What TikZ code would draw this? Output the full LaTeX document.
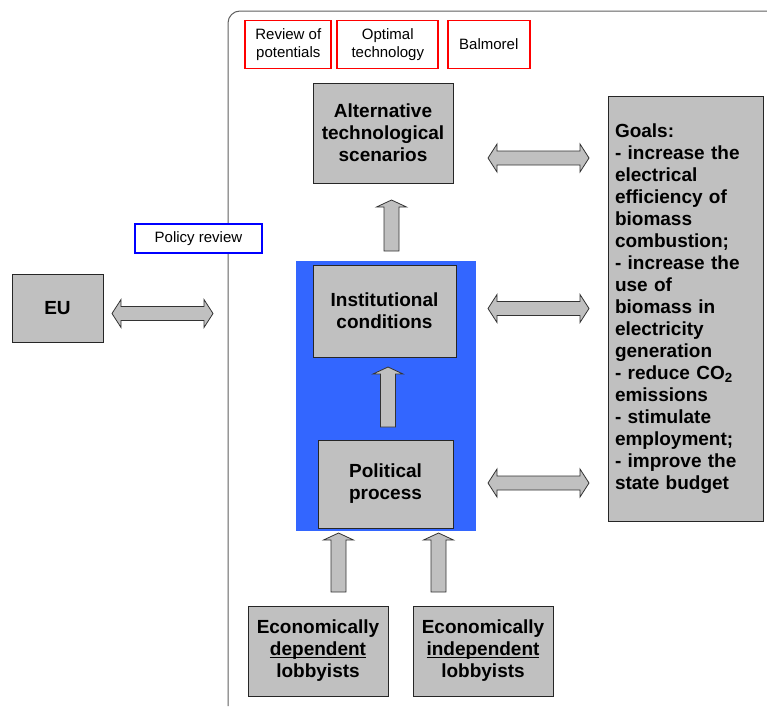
\documentclass[tikz,border=0pt]{standalone}
\usepackage{fontspec}
\setmainfont{Liberation Sans}
\definecolor{boxgray}{HTML}{C0C0C0}
\definecolor{panelblue}{HTML}{3366FF}
\definecolor{framegray}{HTML}{606060}
\newcommand\uparr[3]{% x centre, y tip, y bottom
  \draw[blockarrow] (#1-7.5,#3) -- (#1-7.5,#2+7) -- (#1-15,#2+7) -- (#1,#2) -- (#1+15,#2+7) -- (#1+7.5,#2+7) -- (#1+7.5,#3) -- cycle;}
\newcommand\dblarr[3]{% x left, x right, y centre
  \draw[blockarrow] (#1,#3) -- (#1+9,#3-14) -- (#1+9,#3-7) -- (#2-9,#3-7) -- (#2-9,#3-14) -- (#2,#3) -- (#2-9,#3+14) -- (#2-9,#3+7) -- (#1+9,#3+7) -- (#1+9,#3+14) -- cycle;}
\newcommand\myul[1]{\leavevmode\setbox0\hbox{#1}\rlap{\rule[-2.2pt]{\wd0}{1pt}}\box0}
\begin{document}
\begin{tikzpicture}[x=1pt,y=-1pt,
  gbox/.style={draw=black!85, line width=0.8pt, fill=boxgray, inner sep=0pt, align=center,
    font=\fontsize{19}{22}\selectfont\bfseries},
  rbox/.style={draw=red, line width=1.8pt, fill=white, inner sep=0pt, align=center,
    font=\fontsize{15}{17.5}\selectfont},
  bbox/.style={draw=blue, line width=1.6pt, fill=white, inner sep=0pt, align=center,
    font=\fontsize{15}{17.5}\selectfont},
  blockarrow/.style={draw=black!80, line width=0.8pt, fill=boxgray, line join=miter}
]
\useasboundingbox (0,0) rectangle (767,707);
% frame
\draw[framegray, line width=1pt, rounded corners=12pt] (228,706) -- (228,11) -- (790,11);
% top method boxes
\node[rbox, minimum width=86, minimum height=48] (rev) at (288.3,44.5) {Review of\\potentials};
\node[rbox, minimum width=101, minimum height=48] (opt) at (387.8,44.5) {Optimal\\technology};
\node[rbox, minimum width=82, minimum height=48] (bal) at (488.8,44.5) {Balmorel};
% blue panel
\fill[panelblue] (296,261) rectangle (476,531);
% main boxes
\node[gbox, minimum width=140, minimum height=100] (alt) at (383,133) {Alternative\\technological\\scenarios};
\node[gbox, minimum width=143, minimum height=92] (inst) at (384.5,311) {Institutional\\conditions};
\node[gbox, minimum width=135, minimum height=88] (pol) at (385.5,484) {Political\\process};
\node[gbox, minimum width=140, minimum height=90] (dep) at (318,651) {Economically\\\myul{dependent}\\lobbyists};
\node[gbox, minimum width=140, minimum height=90] (indep) at (483,651) {Economically\\\myul{independent}\\lobbyists};
\node[gbox, minimum width=91, minimum height=68] (eu) at (57.5,308.5) {EU};
\node[bbox, minimum width=127, minimum height=29] (polrev) at (198.5,238.5) {Policy review};
\node[gbox, minimum height=425, text width=141, inner xsep=7pt, align=left] (goals) at (685.5,308.5)
  {Goals:\\- increase the\\electrical\\efficiency of\\biomass\\combustion;\\- increase the\\use of\\biomass in\\electricity\\generation\\- reduce CO\textsubscript{2}\\emissions\\- stimulate\\employment;\\- improve the\\state budget};
% vertical block arrows
\uparr{391.5}{200}{251}
\uparr{388}{367}{427}
\uparr{338.5}{533}{592}
\uparr{438.5}{533}{592}
% horizontal double arrows
\dblarr{112}{213}{313.5}
\dblarr{488}{589}{158}
\dblarr{488}{589}{308.5}
\dblarr{488}{589}{483}
\end{tikzpicture}
\end{document}
